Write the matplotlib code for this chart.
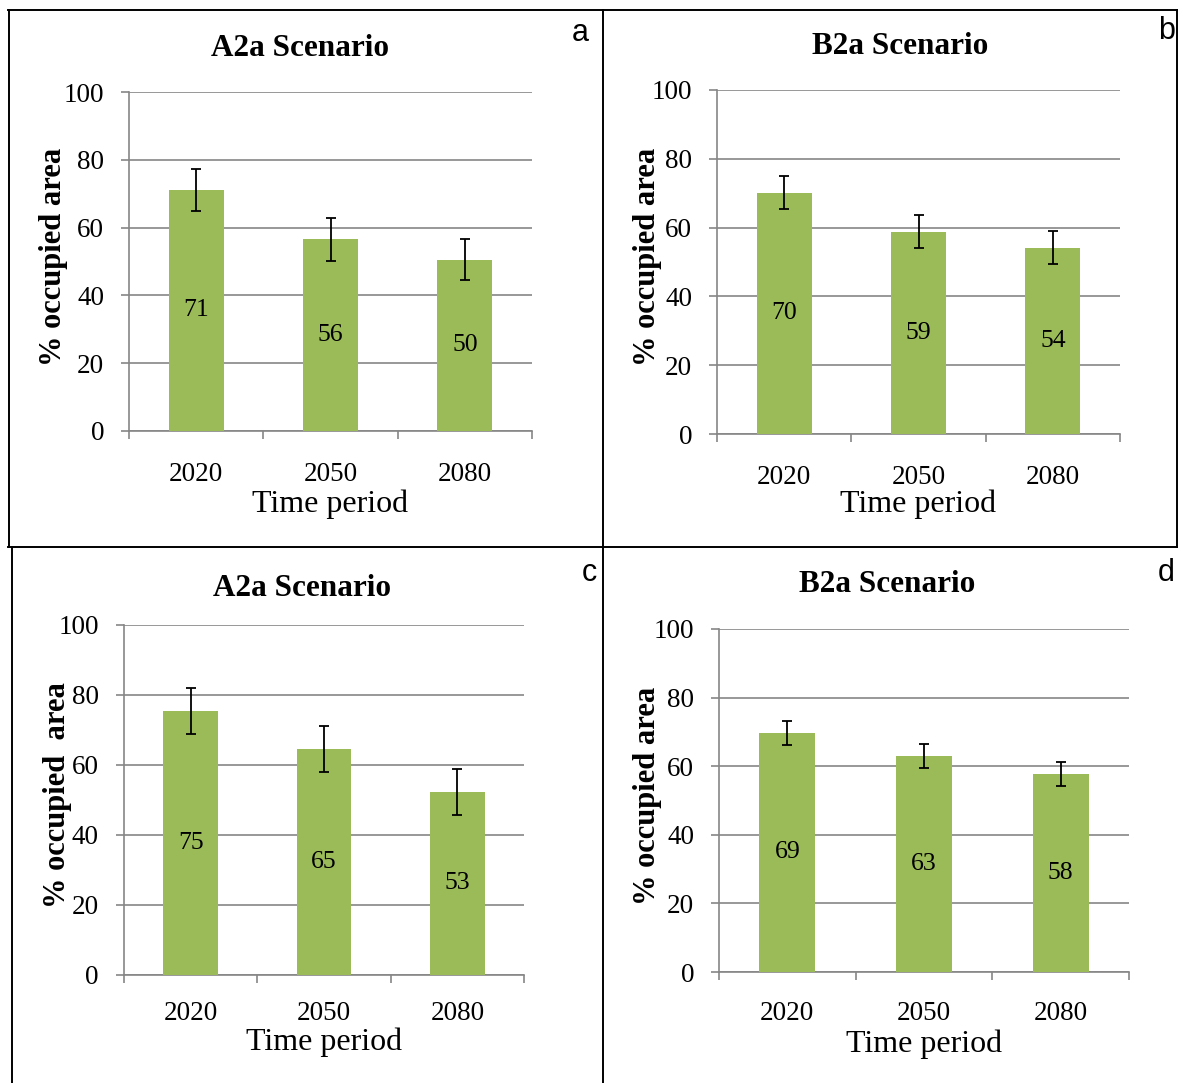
import matplotlib
matplotlib.use('Agg')
import matplotlib.pyplot as plt
from matplotlib.lines import Line2D

plt.rcParams['font.family'] = 'Liberation Serif'

# datos
periods = ['2020', '2050', '2080']

a_vals = [71.1, 56.5, 50.5]
a_err = [6.3, 6.4, 6.1]
a_labels = ['71', '56', '50']

b_vals = [70.2, 58.8, 54.2]
b_err = [4.8, 4.8, 4.8]
b_labels = ['70', '59', '54']

c_vals = [75.4, 64.6, 52.4]
c_err = [6.6, 6.6, 6.6]
c_labels = ['75', '65', '53']

d_vals = [69.7, 63.1, 57.6]
d_err = [3.5, 3.5, 3.5]
d_labels = ['69', '63', '58']

titles = ['A2a Scenario', 'B2a Scenario', 'A2a Scenario', 'B2a Scenario']
letters = ['a', 'b', 'c', 'd']
ylabels = ['% occupied area', '% occupied area', '% occupied  area', '% occupied area']

W, H = 1178, 1083
GREEN = '#9BBB59'
GREY = '#868686'


def fx(x):
    return x / W


def fy(y):
    return 1 - y / H


fig = plt.figure(figsize=(W / 100, H / 100), dpi=100)

# posiciones en pixeles: (x0, x1, y_top, y_bottom), titulo, letra, xlabel y, ylabel x
layout = [
    dict(box=(129, 532, 92, 431), title=(300, 49), letter=(580, 33), xl=504, yl=54, pad=22),
    dict(box=(717, 1120, 90, 434), title=(900, 47), letter=(1158, 31), xl=504, yl=648, pad=22),
    dict(box=(124, 524, 625, 975), title=(302, 588), letter=(589, 573), xl=1042, yl=57, pad=19),
    dict(box=(719, 1129, 629, 972), title=(887, 585), letter=(1158, 573), xl=1044, yl=648, pad=21),
]

panels = [(a_vals, a_err, a_labels), (b_vals, b_err, b_labels),
          (c_vals, c_err, c_labels), (d_vals, d_err, d_labels)]

for i, (vals, err, labs) in enumerate(panels):
    lay = layout[i]
    x0, x1, yt, yb = lay['box']
    ax = fig.add_axes([fx(x0), fy(yb), (x1 - x0) / W, (yb - yt) / H])
    pos = range(len(periods))
    ax.bar(pos, vals, width=0.41, color=GREEN, yerr=err, capsize=3.7,
           error_kw=dict(elinewidth=1.3, capthick=1.3, ecolor='black'), zorder=3)
    for p, v, lab in zip(pos, vals, labs):
        ax.text(p, v / 2, lab, ha='center', va='center', fontsize=18.5, zorder=4)

    ax.set_ylim(0, 100)
    ax.set_xlim(-0.5, 2.5)
    ax.set_yticks(range(0, 101, 20))
    ax.grid(axis='y', color=GREY, lw=1.2)
    ax.set_axisbelow(True)
    for s in ['top', 'right']:
        ax.spines[s].set_visible(False)
    for s in ['left', 'bottom']:
        ax.spines[s].set_color(GREY)
        ax.spines[s].set_linewidth(1.2)
    ax.tick_params(axis='y', length=6, width=1.2, color=GREY, pad=12, labelsize=19.5)
    ax.set_xticks(list(pos), periods)
    ax.set_xticks([-0.5, 0.5, 1.5, 2.5], minor=True)
    ax.tick_params(axis='x', which='major', length=0, pad=lay['pad'], labelsize=19.5)
    ax.tick_params(axis='x', which='minor', length=6, width=1.2, color=GREY)

    tx, ty = lay['title']
    fig.text(fx(tx), fy(ty), titles[i], ha='center', va='center',
             fontsize=22.5, fontweight='bold')
    lx, ly = lay['letter']
    ha = 'center' if letters[i] in ('a', 'c') else 'left'
    fig.text(fx(lx), fy(ly), letters[i], ha=ha, va='center', fontsize=22,
             family='Liberation Sans')
    fig.text(fx((x0 + x1) / 2), fy(lay['xl']), 'Time period', ha='center',
             va='center', fontsize=23)
    fig.text(fx(lay['yl']), fy((yt + yb) / 2 - 5), ylabels[i], ha='center',
             va='center', rotation=90, fontsize=22, fontweight='bold')

# marcos de los paneles
frame = [
    ((8, 1178), (10, 10)),
    ((8, 1178), (547, 547)),
    ((8.5, 8.5), (10, 547)),
    ((12, 12), (547, 1083)),
    ((603, 603), (10, 1083)),
    ((1177, 1177), (10, 547)),
]
for xs, ys in frame:
    fig.add_artist(Line2D([fx(x) for x in xs], [fy(y) for y in ys],
                          color='black', lw=1.4))

plt.savefig('out.png', dpi=100)
